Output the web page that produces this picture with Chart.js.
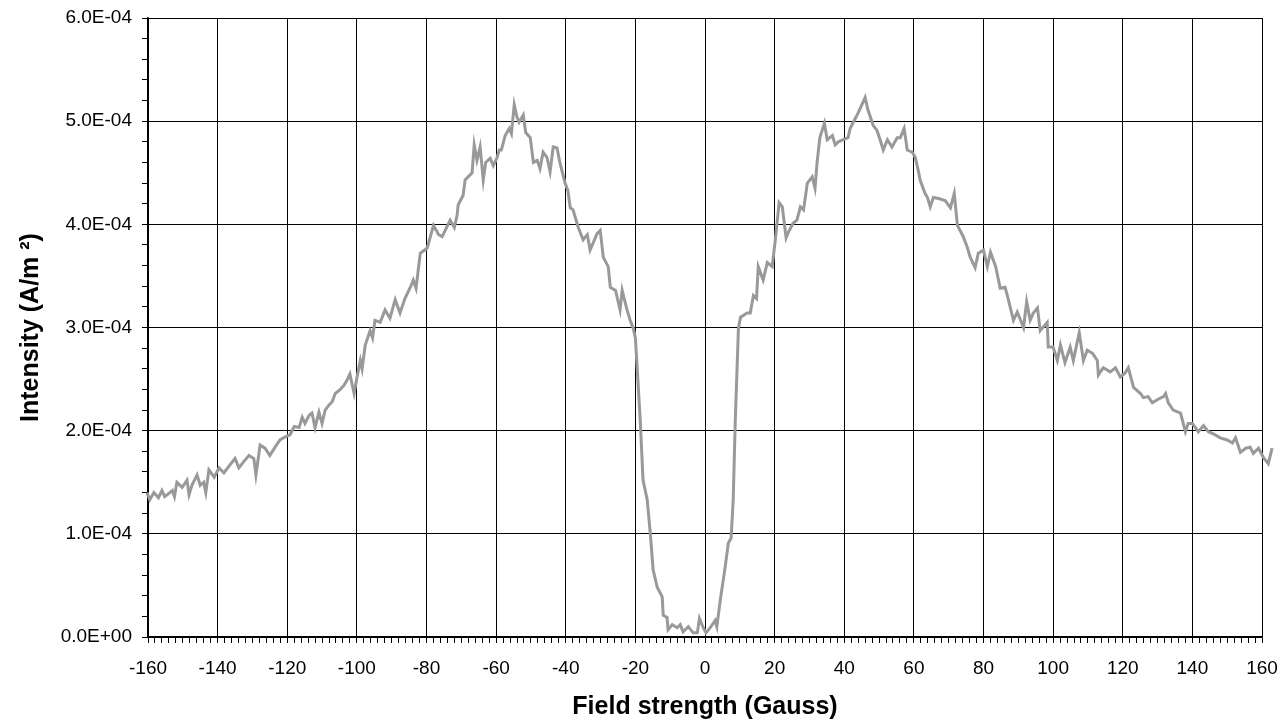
<!DOCTYPE html>
<html>
<head>
<meta charset="utf-8">
<script src="https://cdn.jsdelivr.net/npm/chart.js@4.4.0/dist/chart.umd.min.js"></script>
<style>
  body { margin: 0; background: #fff; }
  canvas { display: block; }
</style>
</head>
<body>
<canvas id="myChart" width="1285" height="728"></canvas>
<script>
// field strength in Gauss
const fieldGauss = [
  -160.3, -159.5, -158.3, -157, -156, -155.2, -153, -152.4, -151.7, -150.2,
  -148.8, -148.2, -147.4, -145.9, -145, -144, -143.4, -142.5, -141, -139.6,
  -138.2, -136.4, -135, -133.9, -132.5, -131, -129.6, -129, -127.8, -126.4,
  -125, -123.5, -122.1, -120.6, -119.2, -118, -116.6, -115.7, -114.9, -113.7,
  -112.9, -112, -110.9, -110, -109.1, -108, -107.1, -106.2, -105.1, -103.7,
  -102.8, -102, -100.8, -100, -99, -98.5, -97.6, -96.2, -95.5, -94.8,
  -93.3, -91.9, -90.5, -89, -87.6, -86.2, -84.5, -83.8, -83, -81.8,
  -79.8, -78, -76.5, -75.5, -73.2, -72, -71.2, -70.9, -69.5, -68.9,
  -66.9, -66.3, -65.5, -64.6, -63.7, -63, -61.7, -60.8, -59.7, -59.1,
  -58.5, -57.4, -56.2, -55.6, -54.8, -54, -53.4, -52.2, -51.5, -50.2,
  -49.3, -48.2, -47.4, -46.5, -45.4, -44.5, -43.6, -42.5, -41.7, -40.2,
  -39.4, -38.7, -37.9, -36.4, -35, -33.8, -33, -31, -30.1, -29.2,
  -27.8, -27.2, -25.7, -24.4, -23.8, -22.4, -21.5, -20.6, -20, -18.6,
  -17.8, -16.6, -15.7, -14.9, -13.7, -12.3, -12, -10.9, -10.6, -9.4,
  -8, -7.1, -6.3, -4.8, -3.4, -2.2, -1.6, -0.5, 0.3, 1.5,
  2.9, 3.4, 4.4, 5.8, 6.7, 7.5, 8.1, 8.7, 9.6, 10.2,
  12.1, 13, 13.9, 14.8, 15.3, 16.7, 17.9, 19.3, 20.2, 21.3,
  22.2, 23.3, 23.9, 25.3, 26.4, 27.4, 28.3, 29.4, 30.8, 31.6,
  32.2, 33, 34.3, 35.1, 36.6, 37.4, 38.3, 39.7, 41.1, 41.7,
  42.6, 44, 45.2, 46, 46.8, 48.3, 49.4, 50.3, 51.2, 52.4,
  53.7, 55.2, 56.1, 57.2, 58.1, 59.5, 60.4, 61.2, 61.8, 63.2,
  63.9, 64.7, 65.6, 67.1, 69, 70.5, 71.6, 72.5, 74.2, 75.3,
  76.2, 77.6, 78.5, 80, 81.1, 82, 83.5, 84.8, 86.2, 87,
  88.6, 89.7, 91.5, 92.4, 93.4, 94.3, 95.5, 96.3, 98.3, 98.6,
  100, 101.2, 102.1, 103.4, 104.9, 105.8, 107.5, 108.7, 109.8, 111.3,
  112.7, 113, 114.4, 116.4, 117.9, 119.3, 120.7, 121.6, 123.1, 125.1,
  125.9, 127.3, 128.5, 129.9, 131.7, 132.3, 133.1, 134.5, 136.6, 138,
  138.8, 140, 141.7, 143.2, 144.6, 146, 148, 150, 151.5, 152.4,
  153.8, 155.3, 156.6, 157.5, 159, 160.4, 161.8, 162.9
];

// intensity in units of 1E-04 A/m2
const intensityE4 = [
  1.40, 1.33, 1.40, 1.35, 1.42, 1.36, 1.42, 1.36, 1.50, 1.45,
  1.52, 1.38, 1.47, 1.57, 1.47, 1.50, 1.40, 1.62, 1.55, 1.64,
  1.59, 1.67, 1.73, 1.64, 1.70, 1.76, 1.73, 1.57, 1.86, 1.83,
  1.76, 1.84, 1.91, 1.94, 1.96, 2.04, 2.03, 2.13, 2.07, 2.15,
  2.17, 2.03, 2.18, 2.07, 2.20, 2.25, 2.28, 2.36, 2.39, 2.44,
  2.49, 2.55, 2.36, 2.51, 2.68, 2.60, 2.83, 2.97, 2.90, 3.07,
  3.05, 3.17, 3.09, 3.27, 3.14, 3.28, 3.40, 3.46, 3.38, 3.72,
  3.77, 3.99, 3.90, 3.88, 4.04, 3.97, 4.09, 4.19, 4.28, 4.43,
  4.50, 4.77, 4.62, 4.75, 4.43, 4.60, 4.64, 4.57, 4.65, 4.72,
  4.72, 4.86, 4.93, 4.88, 5.16, 5.04, 4.99, 5.06, 4.89, 4.84,
  4.60, 4.62, 4.54, 4.70, 4.65, 4.51, 4.75, 4.74, 4.60, 4.40,
  4.33, 4.16, 4.14, 3.97, 3.85, 3.90, 3.75, 3.91, 3.94, 3.68,
  3.59, 3.39, 3.36, 3.17, 3.36, 3.17, 3.07, 2.99, 2.90, 2.10,
  1.52, 1.33, 1.00, 0.65, 0.48, 0.39, 0.21, 0.19, 0.07, 0.12,
  0.09, 0.12, 0.05, 0.10, 0.04, 0.04, 0.18, 0.09, 0.04, 0.09,
  0.16, 0.10, 0.36, 0.68, 0.91, 0.96, 1.33, 2.10, 2.99, 3.10,
  3.14, 3.14, 3.31, 3.28, 3.59, 3.46, 3.63, 3.59, 3.85, 4.21,
  4.17, 3.87, 3.92, 4.01, 4.04, 4.17, 4.14, 4.40, 4.46, 4.35,
  4.60, 4.84, 4.98, 4.82, 4.86, 4.77, 4.80, 4.82, 4.84, 4.93,
  4.99, 5.08, 5.17, 5.23, 5.11, 4.96, 4.91, 4.82, 4.72, 4.82,
  4.75, 4.84, 4.84, 4.93, 4.72, 4.70, 4.65, 4.53, 4.43, 4.30,
  4.26, 4.17, 4.26, 4.25, 4.23, 4.16, 4.30, 3.99, 3.88, 3.78,
  3.68, 3.58, 3.72, 3.75, 3.59, 3.73, 3.59, 3.38, 3.39, 3.29,
  3.07, 3.15, 3.00, 3.25, 3.07, 3.14, 3.19, 2.97, 3.05, 2.81,
  2.81, 2.68, 2.83, 2.66, 2.81, 2.68, 2.95, 2.68, 2.78, 2.75,
  2.68, 2.54, 2.61, 2.57, 2.61, 2.52, 2.56, 2.61, 2.42, 2.36,
  2.32, 2.33, 2.27, 2.30, 2.33, 2.36, 2.27, 2.20, 2.17, 1.99,
  2.07, 2.07, 1.99, 2.05, 1.99, 1.97, 1.93, 1.91, 1.88, 1.93,
  1.79, 1.83, 1.84, 1.78, 1.83, 1.74, 1.68, 1.83
];

const xMin = -160, xMax = 160, xStep = 2, xLabelEvery = 20;
const yMin = 0, yMax = 6e-4, yStep = 2e-5;

const points = fieldGauss.map((g, i) => ({ x: g, y: intensityE4[i] * 1e-4 }));

function sciLabel(v) {
  return v.toExponential(1).replace('e-', 'E-0').replace('e+', 'E+0');
}
function isMajorY(v) {
  return Math.round(v * 1e5) % 10 === 0;
}

const ctx = document.getElementById('myChart').getContext('2d');
const tickFont = { family: 'Liberation Sans, Arial, sans-serif', size: 19 };
const titleFont = { family: 'Liberation Sans, Arial, sans-serif', size: 25, weight: 'bold' };

new Chart(ctx, {
  type: 'scatter',
  data: {
    datasets: [{
      data: points,
      showLine: true,
      borderColor: '#999999',
      borderWidth: 3,
      pointRadius: 0,
      tension: 0,
      clip: false,
    }],
  },
  options: {
    responsive: false,
    animation: false,
    devicePixelRatio: 1,
    layout: { padding: { left: 0, right: 23, top: 18, bottom: 0 } },
    plugins: { legend: { display: false }, tooltip: { enabled: false } },
    scales: {
      x: {
        type: 'linear',
        // range set here (not min/max) so the points past 160 are still drawn
        afterDataLimits: (scale) => { scale.min = xMin; scale.max = xMax; },
        afterFit: (scale) => {
          scale.height = 91;
          scale.paddingLeft = 0;
          scale.paddingRight = 0;
        },
        ticks: {
          stepSize: xStep,
          autoSkip: false,
          maxRotation: 0,
          padding: 14,
          color: '#000',
          font: tickFont,
          callback: (v) => (v % xLabelEvery === 0 ? String(v) : ''),
        },
        grid: {
          color: (c) => (c.tick && c.tick.value % xLabelEvery === 0 ? '#000' : 'rgba(0,0,0,0)'),
          tickColor: '#000',
          tickLength: 6,
          lineWidth: 1,
        },
        border: { color: '#000', width: 1.5 },
        title: {
          display: true,
          text: 'Field strength (Gauss)',
          color: '#000',
          font: titleFont,
          padding: { top: 0, bottom: 6 },
        },
      },
      y: {
        min: yMin,
        max: yMax,
        afterFit: (scale) => {
          scale.width = 148;
          scale.paddingTop = 0;
          scale.paddingBottom = 0;
        },
        ticks: {
          stepSize: yStep,
          autoSkip: false,
          padding: 10,
          color: '#000',
          font: tickFont,
          callback: (v) => (isMajorY(v) ? sciLabel(v) : ''),
        },
        grid: {
          color: (c) => (c.tick && isMajorY(c.tick.value) ? '#000' : 'rgba(0,0,0,0)'),
          tickColor: '#000',
          tickLength: 6,
          lineWidth: 1,
        },
        border: { color: '#000', width: 1.5 },
        title: {
          display: true,
          text: 'Intensity (A/m ²)',
          color: '#000',
          font: titleFont,
          padding: { top: 16, bottom: 0 },
        },
      },
    },
  },
});
</script>
</body>
</html>
